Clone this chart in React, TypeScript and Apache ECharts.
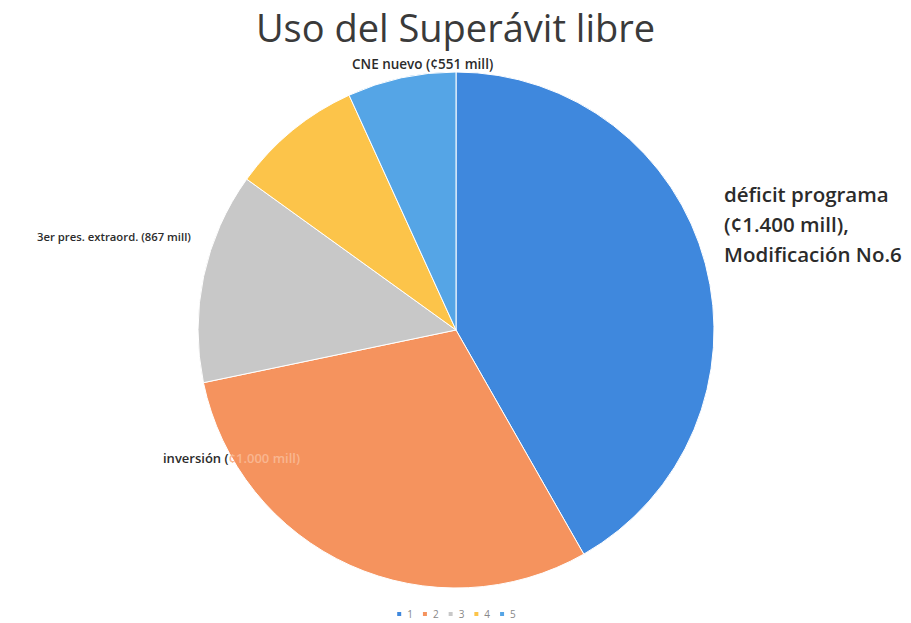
import React, { useEffect, useRef } from "react";
import * as echarts from "echarts";

const categories = ["1", "2", "3", "4", "5"];
const values = [1400, 1005, 443, 277, 228];
const colors = ["#3f88dd", "#f5935e", "#c8c8c8", "#fcc44a", "#55a5e6"];
const deficitLabel = "déficit programa\n(¢1.400 mill),\nModificación No.6";
const inversionLabelA = "inversión (";
const inversionLabelB = "¢1.000 mill)";
const extraordLabel = "3er pres. extraord. (867 mill)";
const cneLabel = "CNE nuevo (¢551 mill)";
const titleText = "Uso del Superávit libre";

export default function App() {
  const ref = useRef<HTMLDivElement>(null);
  useEffect(() => {
    if (!ref.current) return;
    const chart = echarts.init(ref.current, undefined, { renderer: "svg" });
    const font = "'Open Sans', 'Noto Sans', sans-serif";
    chart.setOption({
      animation: false,
      backgroundColor: "#ffffff",
      title: {
        text: titleText,
        left: "center",
        top: 3,
        textStyle: { fontFamily: font, fontSize: 38, fontWeight: "normal", color: "#3a3a3a" },
      },
      legend: {
        bottom: -1,
        left: "center",
        itemWidth: 6,
        itemHeight: 6,
        itemGap: 8,
        icon: "rect",
        textStyle: { fontSize: 10, color: "#888", fontFamily: font },
        data: categories,
      },
      series: [
        {
          type: "pie",
          center: [456, 330],
          radius: [0, 258],
          startAngle: 90,
          clockwise: true,
          label: { show: false },
          labelLine: { show: false },
          itemStyle: { borderColor: "#ffffff", borderWidth: 1 },
          data: categories.map((c, i) => ({
            name: c,
            value: values[i],
            itemStyle: { color: colors[i] },
          })),
        },
      ],
      graphic: [
        {
          type: "text",
          left: 724,
          top: 179,
          z: 100,
          style: {
            text: deficitLabel,
            font: `600 20.5px ${font}`,
            fill: "#2b2b2b",
            lineHeight: 30,
          },
        },
        {
          type: "text",
          left: 163,
          top: 451,
          z: 100,
          style: {
            text: `{a|${inversionLabelA}}{b|${inversionLabelB}}`,
            rich: {
              a: { font: `600 13px ${font}`, fill: "#2b2b2b" },
              b: { font: `600 13px ${font}`, fill: "#f9b690" },
            },
          },
        },
        {
          type: "text",
          left: 37,
          top: 231,
          z: 100,
          style: { text: extraordLabel, font: `600 11.3px ${font}`, fill: "#2b2b2b" },
        },
        {
          type: "text",
          left: 352,
          top: 57,
          z: 100,
          style: { text: cneLabel, font: `600 13.5px ${font}`, fill: "#2b2b2b" },
        },
      ],
    });
    return () => chart.dispose();
  }, []);
  return (
    <div
      ref={ref}
      style={{ position: "fixed", left: 0, top: 0, width: 911, height: 623 }}
    />
  );
}
